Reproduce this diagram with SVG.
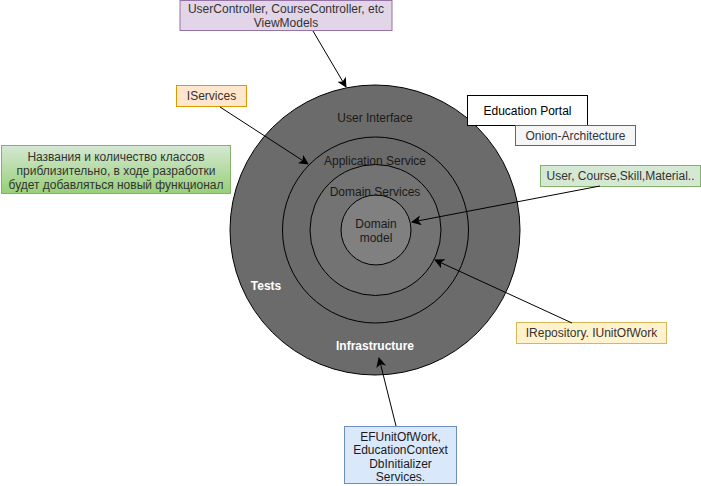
<svg xmlns="http://www.w3.org/2000/svg" width="701" height="486" viewBox="0 0 701 486">
<style>
text{font-family:"Liberation Sans",Arial,sans-serif;font-size:12px;text-anchor:middle;dominant-baseline:central}
.ring{stroke:#000;stroke-width:1}
.dark{fill:#1a1a1a}
.white{fill:#fff;font-weight:bold}
.t{fill:#333}
.conn{stroke:#000;stroke-width:1;fill:none;marker-end:url(#arr)}
</style>
<defs>
<marker id="arr" viewBox="0 0 10 10" refX="9" refY="5" markerWidth="10" markerHeight="10" markerUnits="userSpaceOnUse" orient="auto">
<path d="M0,0 L10,5 L0,10 L2.5,5 Z" fill="#000"/>
</marker>
<linearGradient id="gg" x1="0" y1="0" x2="0" y2="1">
<stop offset="0" stop-color="#d5e8d4"/>
<stop offset="1" stop-color="#97d077"/>
</linearGradient>
</defs>
<g id="onion">
<circle class="ring" cx="375" cy="230" r="145" fill="#6b6b6b"/>
<circle class="ring" cx="375.5" cy="230" r="93" fill="#6b6b6b"/>
<circle class="ring" cx="375.5" cy="230" r="65.5" fill="#737373"/>
<circle class="ring" cx="376" cy="230" r="35" fill="#808080"/>
<text class="dark" x="375" y="118">User Interface</text>
<text class="dark" x="375" y="161">Application Service</text>
<text class="dark" x="375" y="192">Domain Services</text>
<text class="dark" x="376" y="224">Domain</text>
<text class="dark" x="376" y="238">model</text>
<text class="white" x="266" y="286">Tests</text>
<text class="white" x="375" y="346">Infrastructure</text>
</g>
<g id="controllers">
<rect x="180" y="0.5" width="212" height="30" fill="#e1d5e7" stroke="#9673a6"/>
<text class="t" x="286" y="9">UserController, CourseController, etc</text>
<text class="t" x="286" y="23">ViewModels</text>
</g>
<g id="iservices">
<rect x="176.5" y="85.5" width="70" height="21" fill="#ffe6cc" stroke="#d79b00"/>
<text class="t" x="211.5" y="96">IServices</text>
</g>
<g id="note">
<rect x="1.5" y="145.5" width="229" height="48" fill="url(#gg)" stroke="#82b366"/>
<text class="t" x="116" y="157">Названия и количество классов</text>
<text class="t" x="116" y="171">приблизительно, в ходе разработки</text>
<text class="t" x="116" y="185">будет добавляться новый функционал</text>
</g>
<g id="title">
<rect x="467.5" y="95.5" width="120" height="30" fill="#fff" stroke="#000"/>
<text fill="#000" x="527.5" y="110.5">Education Portal</text>
</g>
<g id="subtitle">
<rect x="515.5" y="125.5" width="120" height="20" fill="#f5f5f5" stroke="#666666"/>
<text class="t" x="575.5" y="135.5">Onion-Architecture</text>
</g>
<g id="entities">
<rect x="540.5" y="165.5" width="160" height="21" fill="#d5e8d4" stroke="#82b366"/>
<text class="t" x="620.5" y="176">User, Course,Skill,Material..</text>
</g>
<g id="irepository">
<rect x="516.5" y="322.5" width="150" height="21" fill="#fff2cc" stroke="#d6b656"/>
<text class="t" x="591.5" y="333">IRepository. IUnitOfWork</text>
</g>
<g id="infra">
<rect x="344.5" y="426.5" width="112" height="57" fill="#dae8fc" stroke="#6c8ebf"/>
<text class="dark" x="400.5" y="437">EFUnitOfWork,</text>
<text class="dark" x="400.5" y="450">EducationContext</text>
<text class="dark" x="400.5" y="463.5">DbInitializer</text>
<text class="dark" x="400.5" y="477">Services.</text>
</g>
<g id="connectors">
<line class="conn" x1="313" y1="31" x2="346" y2="87"/>
<line class="conn" x1="220" y1="107" x2="308" y2="164"/>
<line class="conn" x1="600" y1="186" x2="412" y2="222"/>
<line class="conn" x1="572" y1="323" x2="435" y2="260"/>
<line class="conn" x1="396" y1="426" x2="379" y2="358"/>
</g>
</svg>
